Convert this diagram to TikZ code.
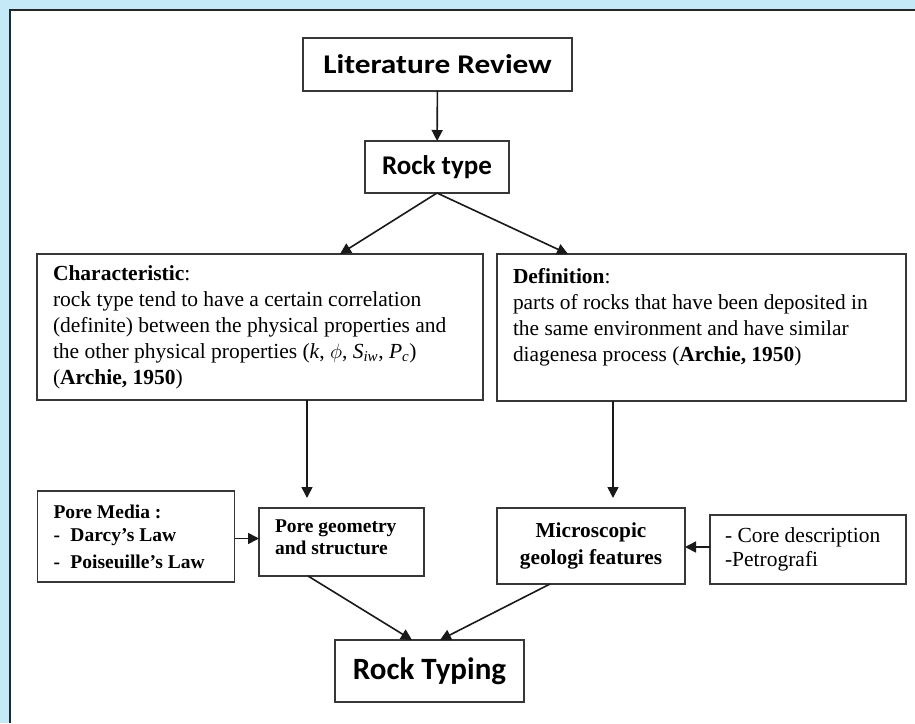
\documentclass[tikz,border=0pt]{standalone}
\usepackage{fontspec}
\setmainfont{Liberation Serif}
\newfontfamily\calfont{Carlito}
\newfontfamily\calwide{Carlito}[FakeStretch=1.16]
\usetikzlibrary{arrows.meta}
\definecolor{bgblue}{RGB}{198,233,248}
\definecolor{boxgray}{RGB}{55,55,55}

\begin{document}
\begin{tikzpicture}[x=1pt,y=-1pt,>={Triangle[length=11pt,width=11pt]}]
        \useasboundingbox (0,0) rectangle (915,723);
        \fill[bgblue] (0,0) rectangle (915,723);
        \fill[white] (10,10) rectangle (915,723);
        \draw[line width=2.5pt,black!85] (10,723) -- (10,10) -- (915,10);
        \begin{scope}[every node/.style={draw=boxgray,line width=1.3pt,inner sep=0pt,outer sep=0pt}]
            \node[minimum width=269pt,minimum height=53pt,font=\calwide\bfseries\fontsize{27}{30}\selectfont] (lit) at (437.5,64.5) {Literature Review};
            \node[minimum width=144pt,minimum height=52pt,font=\calfont\bfseries\fontsize{27}{30}\selectfont] (rt) at (437,167) {Rock type};
            \node[minimum height=146pt,inner xsep=16pt,text width=414pt,align=flush left,font=\fontsize{21.5}{26}\selectfont] (ch) at (260,327) {\textbf{Characteristic}:\\
                rock type tend to have a certain correlation\\
                (definite) between the physical properties and\\
                the other physical properties (\textit{k}, $\phi$, \textit{S}\textsubscript{\textit{iw}}, \textit{P}\textsubscript{\textit{c}})\\
                (\textbf{Archie, 1950})};
            \node[minimum height=147pt,inner xsep=16pt,text width=377pt,align=flush left,font=\fontsize{21.4}{26}\selectfont] (def) at (701.5,327.5) {\textbf{Definition}:\\
                parts of rocks that have been deposited in\\
                the same environment and have similar\\
                diagenesa process (\textbf{Archie, 1950})\\ ~};
            \node[minimum height=91pt,inner xsep=16pt,text width=165pt,align=flush left,font=\bfseries\fontsize{19.5}{23}\selectfont] (pm) at (136,536.5) {Pore Media :\\
                \makebox[17pt][l]{-}Darcy’s Law\\[4pt]
                \makebox[17pt][l]{-}Poiseuille’s Law};
            \node[minimum height=68pt,inner xsep=16pt,text width=133pt,align=flush left,font=\bfseries\fontsize{19.5}{22}\selectfont] (pg) at (341.5,542) {Pore geometry\\ and structure\\[-12pt]~};
            \node[minimum width=188pt,minimum height=76pt,align=center,font=\bfseries\fontsize{21.3}{27}\selectfont] (mic) at (591,546) {Microscopic\\ geologi features};
            \node[minimum height=69pt,inner xsep=15pt,text width=166pt,align=flush left,font=\fontsize{21.5}{24}\selectfont] (core) at (808,549.5) {- Core description\\ -Petrografi};
            \node[minimum width=189pt,minimum height=62pt,font=\calfont\bfseries\fontsize{31}{34}\selectfont] (typing) at (429.5,671) {Rock Typing};
        \end{scope}
        \begin{scope}[line width=1.6pt,black!90]
            \draw[->] (lit) -- (rt);
            \draw[->] (rt.south) -- ([xshift=80pt]ch.north);
            \draw[->] (rt.south) -- ([xshift=-133.5pt]def.north);
            \draw[->,shorten >=10pt] ([xshift=47pt]ch.south) -- ([xshift=-34.5pt]pg.north);
            \draw[->,shorten >=10pt] ([xshift=-88.5pt]def.south) -- ([xshift=22pt]mic.north);
            \draw[->] ([yshift=-2pt]pm.east) -- ([yshift=-2pt]pm.east -| pg.west);
            \draw[->] ([yshift=2.5pt]core.west) -- ([yshift=2.5pt]core.west -| mic.east);
            \draw[->] ([xshift=-33.5pt]pg.south) -- ([xshift=-17.5pt]typing.north);
            \draw[->] ([xshift=-41pt]mic.south) -- ([xshift=10.5pt]typing.north);
        \end{scope}
    \end{tikzpicture}
\end{document}
